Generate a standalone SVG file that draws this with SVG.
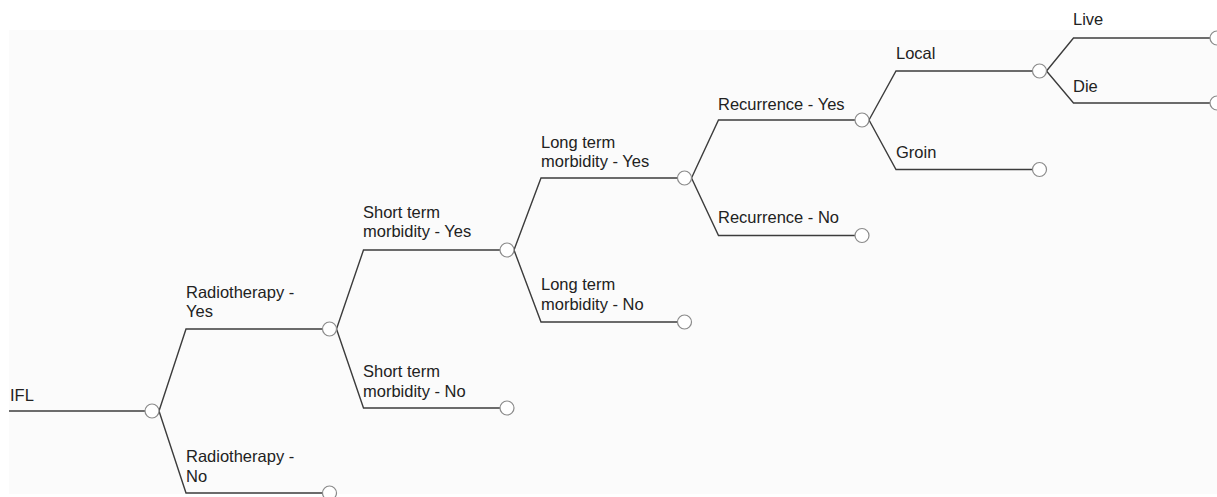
<svg xmlns="http://www.w3.org/2000/svg" width="1217" height="497" viewBox="0 0 1217 497">
<style>
.bg{fill:#fbfbfb}
.edge{fill:none;stroke:#3c3c3c;stroke-width:1.4}
.node{fill:#ffffff;stroke:#8a8a8a;stroke-width:1.2}
.lbl{font-family:"Liberation Sans",Arial,sans-serif;font-size:16.5px;fill:#222}
</style>
<rect x="0" y="0" width="1217" height="497" fill="#ffffff"/>
<rect class="bg" x="9" y="30" width="1208" height="464"/>
<g id="connectors">
<path class="edge" d="M9,411 H145"/>
<path class="edge" d="M159,411 L186,329 H322.5"/>
<path class="edge" d="M159,411 L186,493 H322.5"/>
<path class="edge" d="M336.5,329 L363.5,250 H500"/>
<path class="edge" d="M336.5,329 L363.5,408 H500"/>
<path class="edge" d="M514,250 L541,178 H677.5"/>
<path class="edge" d="M514,250 L541,322 H677.5"/>
<path class="edge" d="M691.5,178 L718.5,120 H855"/>
<path class="edge" d="M691.5,178 L718.5,235.5 H855"/>
<path class="edge" d="M869,120 L896,71 H1032.5"/>
<path class="edge" d="M869,120 L896,169.5 H1032.5"/>
<path class="edge" d="M1046.5,71 L1073.5,38 H1210"/>
<path class="edge" d="M1046.5,71 L1073.5,103 H1210"/>
</g>
<g id="ifl"><circle class="node" cx="152" cy="411" r="7"/><text class="lbl" x="10" y="401">IFL</text></g>
<g id="rt-yes"><circle class="node" cx="329.5" cy="329" r="7"/><text class="lbl" x="186" y="298">Radiotherapy -</text><text class="lbl" x="186" y="317">Yes</text></g>
<g id="rt-no"><circle class="node" cx="329.5" cy="493" r="7"/><text class="lbl" x="186" y="462">Radiotherapy -</text><text class="lbl" x="186" y="482">No</text></g>
<g id="st-yes"><circle class="node" cx="507" cy="250" r="7"/><text class="lbl" x="363" y="218">Short term</text><text class="lbl" x="363" y="237">morbidity - Yes</text></g>
<g id="st-no"><circle class="node" cx="507" cy="408" r="7"/><text class="lbl" x="363" y="377">Short term</text><text class="lbl" x="363" y="397">morbidity - No</text></g>
<g id="lt-yes"><circle class="node" cx="684.5" cy="178" r="7"/><text class="lbl" x="541" y="148">Long term</text><text class="lbl" x="541" y="167">morbidity - Yes</text></g>
<g id="lt-no"><circle class="node" cx="684.5" cy="322" r="7"/><text class="lbl" x="541" y="290">Long term</text><text class="lbl" x="541" y="310">morbidity - No</text></g>
<g id="rec-yes"><circle class="node" cx="862" cy="120" r="7"/><text class="lbl" x="718" y="110">Recurrence - Yes</text></g>
<g id="rec-no"><circle class="node" cx="862" cy="235.5" r="7"/><text class="lbl" x="718" y="223">Recurrence - No</text></g>
<g id="local"><circle class="node" cx="1039.5" cy="71" r="7"/><text class="lbl" x="896" y="59">Local</text></g>
<g id="groin"><circle class="node" cx="1039.5" cy="169.5" r="7"/><text class="lbl" x="896" y="158">Groin</text></g>
<g id="live"><circle class="node" cx="1217" cy="38" r="7"/><text class="lbl" x="1073" y="25">Live</text></g>
<g id="die"><circle class="node" cx="1217" cy="103" r="7"/><text class="lbl" x="1073" y="92">Die</text></g>
</svg>
